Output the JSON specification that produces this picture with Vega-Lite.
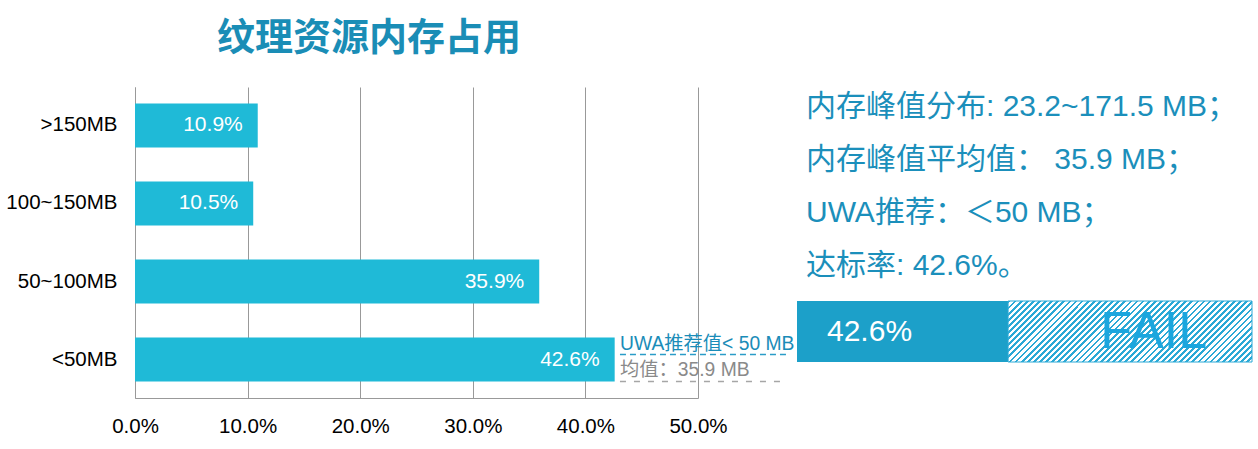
{
  "$schema": "https://vega.github.io/schema/vega-lite/v6.json",
  "padding": {"left": 5, "top": 20, "right": 5, "bottom": 5},
  "title": {"text": "纹理资源内存占用", "anchor": "start", "dx": 212, "fontSize": 38, "font": "Noto Sans CJK SC", "fontWeight": "bold", "color": "#1a8db6", "offset": 29},
  "spacing": 2,
  "config": {"view": {"stroke": null}, "font": "Liberation Sans, Noto Sans CJK SC"},
  "hconcat": [
    {
      "width": 563,
      "height": 311,
      "layer": [
        {
          "data": {"values": [
            {"range": ">150MB", "share": 0.109},
            {"range": "100~150MB", "share": 0.105},
            {"range": "50~100MB", "share": 0.359},
            {"range": "<50MB", "share": 0.426}
          ]},
          "layer": [
            {
              "mark": {"type": "bar", "color": "#1fbad7"},
              "encoding": {
                "y": {"field": "range", "type": "nominal",
                  "scale": {"domain": [">150MB", "100~150MB", "50~100MB", "<50MB"], "paddingInner": 0.436, "paddingOuter": 0.21},
                  "axis": {"title": null, "ticks": false, "labelFontSize": 20.5, "labelPadding": 18, "labelColor": "#000000", "domainColor": "#999999", "minExtent": 130, "maxExtent": 130, "labelFont": "Liberation Sans"}},
                "x": {"field": "share", "type": "quantitative",
                  "scale": {"domain": [0, 0.5], "nice": false},
                  "axis": {"values": [0, 0.1, 0.2, 0.3, 0.4, 0.5], "format": ".1%", "title": null, "ticks": false, "labelFontSize": 20.5, "labelPadding": 18, "labelColor": "#000000", "domainColor": "#999999", "grid": true, "gridColor": "#999999", "gridOpacity": 1, "labelFlush": false, "labelFont": "Liberation Sans"}}
              }
            },
            {
              "mark": {"type": "text", "align": "right", "baseline": "middle", "dx": -15, "color": "#ffffff", "fontSize": 21, "font": "Liberation Sans"},
              "encoding": {
                "y": {"field": "range", "type": "nominal"},
                "x": {"field": "share", "type": "quantitative"},
                "text": {"field": "share", "format": ".1%"}
              }
            }
          ]
        },
        {
          "data": {"values": [{"range": "<50MB", "from": 0.4307, "to": 0.5817}]},
          "mark": {"type": "rule", "color": "#2a9cc8", "strokeDash": [6, 4], "strokeWidth": 1.5, "yOffset": -5},
          "encoding": {"y": {"field": "range", "type": "nominal"}, "x": {"field": "from", "type": "quantitative"}, "x2": {"field": "to"}}
        },
        {
          "data": {"values": [{"range": "<50MB", "from": 0.4307, "to": 0.5773}]},
          "mark": {"type": "rule", "color": "#a6a6a6", "strokeDash": [6, 8], "strokeWidth": 1.5, "yOffset": 22},
          "encoding": {"y": {"field": "range", "type": "nominal"}, "x": {"field": "from", "type": "quantitative"}, "x2": {"field": "to"}}
        },
        {
          "data": {"values": [{"range": "<50MB", "at": 0.4307, "note": "UWA推荐值< 50 MB"}]},
          "mark": {"type": "text", "align": "left", "baseline": "middle", "dy": -16, "fontSize": 19.3, "color": "#1a8cb8"},
          "encoding": {"y": {"field": "range", "type": "nominal"}, "x": {"field": "at", "type": "quantitative"}, "text": {"field": "note"}}
        },
        {
          "data": {"values": [{"range": "<50MB", "at": 0.4307, "note": "均值：35.9 MB"}]},
          "mark": {"type": "text", "align": "left", "baseline": "middle", "dy": 10, "fontSize": 19.3, "color": "#8a8a8a"},
          "encoding": {"y": {"field": "range", "type": "nominal"}, "x": {"field": "at", "type": "quantitative"}, "text": {"field": "note"}}
        }
      ]
    },
    {
      "spacing": 14,
      "vconcat": [
        {
          "width": 455,
          "height": 199,
          "data": {"values": [
            {"n": 1, "line": "内存峰值分布: 23.2~171.5 MB；"},
            {"n": 2, "line": "内存峰值平均值： 35.9 MB；"},
            {"n": 3, "line": "UWA推荐：＜50 MB；"},
            {"n": 4, "line": "达标率: 42.6%。"}
          ]},
          "mark": {"type": "text", "align": "left", "baseline": "middle", "dx": 9, "fontSize": 30, "color": "#1b8fbb"},
          "encoding": {
            "y": {"field": "n", "type": "ordinal", "scale": {"type": "point", "padding": 0.377}, "axis": null},
            "x": {"datum": 0, "type": "quantitative", "scale": {"domain": [0, 1], "nice": false}, "axis": null},
            "text": {"field": "line"}
          }
        },
        {
          "width": 455,
          "height": 61,
          "layer": [
            {
              "data": {"values": [{"part": "达标", "from": 0, "to": 0.464}]},
              "mark": {"type": "rect", "color": "#1ca0c9"},
              "encoding": {"x": {"field": "from", "type": "quantitative", "scale": {"domain": [0, 1], "nice": false}, "axis": null}, "x2": {"field": "to"}}
            },
            {
              "data": {"values": [{"part": "未达标", "from": 0.464, "to": 1}]},
              "mark": {"type": "rect", "stroke": "#2ba9d6", "strokeWidth": 1,
                "fill": {"gradient": "linear", "x1": 0, "y1": 0, "x2": 1.176, "y2": 0.294, "stops": [
{"offset":0,"color":"#2ba9d6"},{"offset":0.009,"color":"#2ba9d6"},{"offset":0.009,"color":"#fff"},{"offset":0.02,"color":"#fff"},
{"offset":0.02,"color":"#2ba9d6"},{"offset":0.029,"color":"#2ba9d6"},{"offset":0.029,"color":"#fff"},{"offset":0.04,"color":"#fff"},
{"offset":0.04,"color":"#2ba9d6"},{"offset":0.049,"color":"#2ba9d6"},{"offset":0.049,"color":"#fff"},{"offset":0.06,"color":"#fff"},
{"offset":0.06,"color":"#2ba9d6"},{"offset":0.069,"color":"#2ba9d6"},{"offset":0.069,"color":"#fff"},{"offset":0.08,"color":"#fff"},
{"offset":0.08,"color":"#2ba9d6"},{"offset":0.089,"color":"#2ba9d6"},{"offset":0.089,"color":"#fff"},{"offset":0.1,"color":"#fff"},
{"offset":0.1,"color":"#2ba9d6"},{"offset":0.109,"color":"#2ba9d6"},{"offset":0.109,"color":"#fff"},{"offset":0.12,"color":"#fff"},
{"offset":0.12,"color":"#2ba9d6"},{"offset":0.129,"color":"#2ba9d6"},{"offset":0.129,"color":"#fff"},{"offset":0.14,"color":"#fff"},
{"offset":0.14,"color":"#2ba9d6"},{"offset":0.149,"color":"#2ba9d6"},{"offset":0.149,"color":"#fff"},{"offset":0.16,"color":"#fff"},
{"offset":0.16,"color":"#2ba9d6"},{"offset":0.169,"color":"#2ba9d6"},{"offset":0.169,"color":"#fff"},{"offset":0.18,"color":"#fff"},
{"offset":0.18,"color":"#2ba9d6"},{"offset":0.189,"color":"#2ba9d6"},{"offset":0.189,"color":"#fff"},{"offset":0.2,"color":"#fff"},
{"offset":0.2,"color":"#2ba9d6"},{"offset":0.209,"color":"#2ba9d6"},{"offset":0.209,"color":"#fff"},{"offset":0.22,"color":"#fff"},
{"offset":0.22,"color":"#2ba9d6"},{"offset":0.229,"color":"#2ba9d6"},{"offset":0.229,"color":"#fff"},{"offset":0.24,"color":"#fff"},
{"offset":0.24,"color":"#2ba9d6"},{"offset":0.249,"color":"#2ba9d6"},{"offset":0.249,"color":"#fff"},{"offset":0.26,"color":"#fff"},
{"offset":0.26,"color":"#2ba9d6"},{"offset":0.269,"color":"#2ba9d6"},{"offset":0.269,"color":"#fff"},{"offset":0.28,"color":"#fff"},
{"offset":0.28,"color":"#2ba9d6"},{"offset":0.289,"color":"#2ba9d6"},{"offset":0.289,"color":"#fff"},{"offset":0.3,"color":"#fff"},
{"offset":0.3,"color":"#2ba9d6"},{"offset":0.309,"color":"#2ba9d6"},{"offset":0.309,"color":"#fff"},{"offset":0.32,"color":"#fff"},
{"offset":0.32,"color":"#2ba9d6"},{"offset":0.329,"color":"#2ba9d6"},{"offset":0.329,"color":"#fff"},{"offset":0.34,"color":"#fff"},
{"offset":0.34,"color":"#2ba9d6"},{"offset":0.349,"color":"#2ba9d6"},{"offset":0.349,"color":"#fff"},{"offset":0.36,"color":"#fff"},
{"offset":0.36,"color":"#2ba9d6"},{"offset":0.369,"color":"#2ba9d6"},{"offset":0.369,"color":"#fff"},{"offset":0.38,"color":"#fff"},
{"offset":0.38,"color":"#2ba9d6"},{"offset":0.389,"color":"#2ba9d6"},{"offset":0.389,"color":"#fff"},{"offset":0.4,"color":"#fff"},
{"offset":0.4,"color":"#2ba9d6"},{"offset":0.409,"color":"#2ba9d6"},{"offset":0.409,"color":"#fff"},{"offset":0.42,"color":"#fff"},
{"offset":0.42,"color":"#2ba9d6"},{"offset":0.429,"color":"#2ba9d6"},{"offset":0.429,"color":"#fff"},{"offset":0.44,"color":"#fff"},
{"offset":0.44,"color":"#2ba9d6"},{"offset":0.449,"color":"#2ba9d6"},{"offset":0.449,"color":"#fff"},{"offset":0.46,"color":"#fff"},
{"offset":0.46,"color":"#2ba9d6"},{"offset":0.469,"color":"#2ba9d6"},{"offset":0.469,"color":"#fff"},{"offset":0.48,"color":"#fff"},
{"offset":0.48,"color":"#2ba9d6"},{"offset":0.489,"color":"#2ba9d6"},{"offset":0.489,"color":"#fff"},{"offset":0.5,"color":"#fff"},
{"offset":0.5,"color":"#2ba9d6"},{"offset":0.509,"color":"#2ba9d6"},{"offset":0.509,"color":"#fff"},{"offset":0.52,"color":"#fff"},
{"offset":0.52,"color":"#2ba9d6"},{"offset":0.529,"color":"#2ba9d6"},{"offset":0.529,"color":"#fff"},{"offset":0.54,"color":"#fff"},
{"offset":0.54,"color":"#2ba9d6"},{"offset":0.549,"color":"#2ba9d6"},{"offset":0.549,"color":"#fff"},{"offset":0.56,"color":"#fff"},
{"offset":0.56,"color":"#2ba9d6"},{"offset":0.569,"color":"#2ba9d6"},{"offset":0.569,"color":"#fff"},{"offset":0.58,"color":"#fff"},
{"offset":0.58,"color":"#2ba9d6"},{"offset":0.589,"color":"#2ba9d6"},{"offset":0.589,"color":"#fff"},{"offset":0.6,"color":"#fff"},
{"offset":0.6,"color":"#2ba9d6"},{"offset":0.609,"color":"#2ba9d6"},{"offset":0.609,"color":"#fff"},{"offset":0.62,"color":"#fff"},
{"offset":0.62,"color":"#2ba9d6"},{"offset":0.629,"color":"#2ba9d6"},{"offset":0.629,"color":"#fff"},{"offset":0.64,"color":"#fff"},
{"offset":0.64,"color":"#2ba9d6"},{"offset":0.649,"color":"#2ba9d6"},{"offset":0.649,"color":"#fff"},{"offset":0.66,"color":"#fff"},
{"offset":0.66,"color":"#2ba9d6"},{"offset":0.669,"color":"#2ba9d6"},{"offset":0.669,"color":"#fff"},{"offset":0.68,"color":"#fff"},
{"offset":0.68,"color":"#2ba9d6"},{"offset":0.689,"color":"#2ba9d6"},{"offset":0.689,"color":"#fff"},{"offset":0.7,"color":"#fff"},
{"offset":0.7,"color":"#2ba9d6"},{"offset":0.709,"color":"#2ba9d6"},{"offset":0.709,"color":"#fff"},{"offset":0.72,"color":"#fff"},
{"offset":0.72,"color":"#2ba9d6"},{"offset":0.729,"color":"#2ba9d6"},{"offset":0.729,"color":"#fff"},{"offset":0.74,"color":"#fff"},
{"offset":0.74,"color":"#2ba9d6"},{"offset":0.749,"color":"#2ba9d6"},{"offset":0.749,"color":"#fff"},{"offset":0.76,"color":"#fff"},
{"offset":0.76,"color":"#2ba9d6"},{"offset":0.769,"color":"#2ba9d6"},{"offset":0.769,"color":"#fff"},{"offset":0.78,"color":"#fff"},
{"offset":0.78,"color":"#2ba9d6"},{"offset":0.789,"color":"#2ba9d6"},{"offset":0.789,"color":"#fff"},{"offset":0.8,"color":"#fff"},
{"offset":0.8,"color":"#2ba9d6"},{"offset":0.809,"color":"#2ba9d6"},{"offset":0.809,"color":"#fff"},{"offset":0.82,"color":"#fff"},
{"offset":0.82,"color":"#2ba9d6"},{"offset":0.829,"color":"#2ba9d6"},{"offset":0.829,"color":"#fff"},{"offset":0.84,"color":"#fff"},
{"offset":0.84,"color":"#2ba9d6"},{"offset":0.849,"color":"#2ba9d6"},{"offset":0.849,"color":"#fff"},{"offset":0.86,"color":"#fff"},
{"offset":0.86,"color":"#2ba9d6"},{"offset":0.869,"color":"#2ba9d6"},{"offset":0.869,"color":"#fff"},{"offset":0.88,"color":"#fff"},
{"offset":0.88,"color":"#2ba9d6"},{"offset":0.889,"color":"#2ba9d6"},{"offset":0.889,"color":"#fff"},{"offset":0.9,"color":"#fff"},
{"offset":0.9,"color":"#2ba9d6"},{"offset":0.909,"color":"#2ba9d6"},{"offset":0.909,"color":"#fff"},{"offset":0.92,"color":"#fff"},
{"offset":0.92,"color":"#2ba9d6"},{"offset":0.929,"color":"#2ba9d6"},{"offset":0.929,"color":"#fff"},{"offset":0.94,"color":"#fff"},
{"offset":0.94,"color":"#2ba9d6"},{"offset":0.949,"color":"#2ba9d6"},{"offset":0.949,"color":"#fff"},{"offset":0.96,"color":"#fff"},
{"offset":0.96,"color":"#2ba9d6"},{"offset":0.969,"color":"#2ba9d6"},{"offset":0.969,"color":"#fff"},{"offset":0.98,"color":"#fff"},
{"offset":0.98,"color":"#2ba9d6"},{"offset":0.989,"color":"#2ba9d6"},{"offset":0.989,"color":"#fff"},{"offset":1,"color":"#fff"}
                ]}},
              "encoding": {"x": {"field": "from", "type": "quantitative"}, "x2": {"field": "to"}}
            },
            {
              "data": {"values": [{"label": "42.6%", "at": 0}]},
              "mark": {"type": "text", "align": "left", "baseline": "middle", "dx": 30, "color": "#ffffff", "fontSize": 30},
              "encoding": {"x": {"field": "at", "type": "quantitative"}, "text": {"field": "label"}}
            },
            {
              "data": {"values": [{"label": "FAIL", "at": 0.784}]},
              "mark": {"type": "text", "align": "center", "baseline": "middle", "color": "#1ba6de", "fontSize": 52},
              "encoding": {"x": {"field": "at", "type": "quantitative"}, "text": {"field": "label"}}
            }
          ]
        }
      ]
    }
  ]
}
